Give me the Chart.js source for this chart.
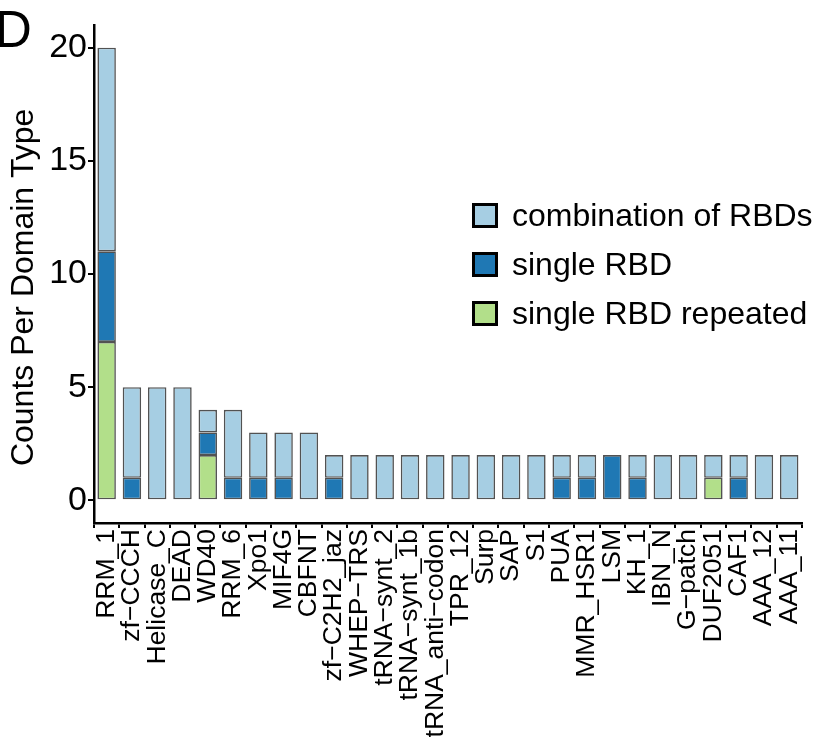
<!DOCTYPE html>
<html>
<head>
<meta charset="utf-8">
<script src="https://cdn.jsdelivr.net/npm/chart.js@4.4.1/dist/chart.umd.min.js"></script>
<style>
    body { margin: 0; background: #fff; font-family: "Liberation Sans", Arial, Helvetica, sans-serif; }
    #wrap { position: relative; width: 822px; height: 741px; overflow: hidden; }
    #panel { position: absolute; left: -5px; top: 4px; font-size: 51px; line-height: 51px; color: #000; }
    #legend { position: absolute; left: 472px; top: 203px; }
    .row { display: flex; align-items: center; height: 25px; margin-bottom: 24px; font-size: 32px; color: #000; }
    .box { width: 26px; height: 25px; box-sizing: border-box; border: 3px solid #000; margin-right: 14px; }
</style>
</head>
<body>
<div id="wrap">
    <canvas id="chart"></canvas>
    <div id="panel">D</div>
    <div id="legend"></div>
</div>
<script>
// Domain types (x axis)
const categories = ['RRM_1', 'zf−CCCH', 'Helicase_C', 'DEAD', 'WD40', 'RRM_6', 'Xpo1', 'MIF4G', 'CBFNT',
    'zf−C2H2_jaz', 'WHEP−TRS', 'tRNA−synt_2', 'tRNA−synt_1b', 'tRNA_anti−codon', 'TPR_12', 'Surp', 'SAP',
    'S1', 'PUA', 'MMR_HSR1', 'LSM', 'KH_1', 'IBN_N', 'G−patch', 'DUF2051', 'CAF1', 'AAA_12', 'AAA_11'];

// Counts per domain type, one array per group
const repeated    = [7, 0, 0, 0, 2, 0, 0, 0, 0, 0, 0, 0, 0, 0, 0, 0, 0, 0, 0, 0, 0, 0, 0, 0, 1, 0, 0, 0];
const single      = [4, 1, 0, 0, 1, 1, 1, 1, 0, 1, 0, 0, 0, 0, 0, 0, 0, 0, 1, 1, 2, 1, 0, 0, 0, 1, 0, 0];
const combination = [9, 4, 5, 5, 1, 3, 2, 2, 3, 1, 2, 2, 2, 2, 2, 2, 2, 2, 1, 1, 0, 1, 2, 2, 1, 1, 2, 2];

const yTicks = [0, 5, 10, 15, 20];

const FONT = '"Liberation Sans", Arial, Helvetica, sans-serif';

// Stack order bottom -> top
const datasets = [
    { label: 'single RBD repeated', data: repeated, backgroundColor: '#B2DF8A' },
    { label: 'single RBD', data: single, backgroundColor: '#1F78B4' },
    { label: 'combination of RBDs', data: combination, backgroundColor: '#A6CEE3' }
].map(ds => ({
    ...ds,
    data: ds.data.map(v => v || null),
    borderColor: 'rgba(0, 0, 0, 0.68)',
    borderWidth: 1.6,
    borderSkipped: false,
    categoryPercentage: 1,
    barPercentage: 0.73
}));

const ctx = document.getElementById('chart').getContext('2d');
new Chart(ctx, {
    type: 'bar',
    data: { labels: categories, datasets: datasets },
    options: {
        responsive: true,
        maintainAspectRatio: false,
        animation: false,
        layout: { padding: { top: 25, right: 0, left: 0, bottom: 0 } },
        plugins: {
            legend: { display: false },
            tooltip: { enabled: false }
        },
        scales: {
            x: {
                stacked: true,
                offset: true,
                afterFit: scale => { scale.height = 218; },
                grid: { drawOnChartArea: false, drawTicks: true, tickLength: 5, color: '#000', lineWidth: 2 },
                border: { display: true, color: '#000', width: 2.5 },
                ticks: {
                    autoSkip: false,
                    minRotation: 90,
                    maxRotation: 90,
                    padding: 1,
                    color: '#000',
                    font: { family: FONT, size: 26.5 }
                }
            },
            y: {
                stacked: true,
                min: -1,
                max: 21,
                afterFit: scale => { scale.width = 94; },
                afterBuildTicks: scale => { scale.ticks = yTicks.map(v => ({ value: v })); },
                grid: { drawOnChartArea: false, drawTicks: true, tickLength: 6, color: '#000', lineWidth: 2 },
                border: { display: true, color: '#000', width: 2.5 },
                ticks: {
                    padding: 1,
                    color: '#000',
                    font: { family: FONT, size: 34 }
                },
                title: {
                    display: true,
                    // trailing spaces push the rotated title a little lower, like the reference
                    text: 'Counts Per Domain Type   ',
                    color: '#000',
                    padding: { top: 5, bottom: 0 },
                    font: { family: FONT, size: 32 }
                }
            }
        }
    }
});

// Legend in the reference order (top of stack first)
const legend = document.getElementById('legend');
datasets.slice().reverse().forEach(ds => {
    const row = document.createElement('div');
    row.className = 'row';
    row.innerHTML = `<span class="box" style="background:${ds.backgroundColor}"></span><span>${ds.label}</span>`;
    legend.appendChild(row);
});
</script>
</body>
</html>
